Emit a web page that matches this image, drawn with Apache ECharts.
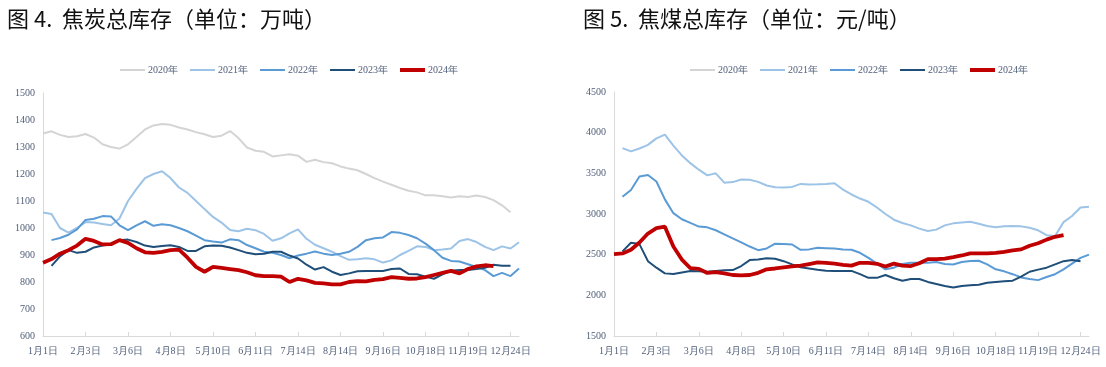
<!DOCTYPE html>
<html>
<head>
<meta charset="utf-8">
<script src="https://cdn.jsdelivr.net/npm/echarts@6/dist/echarts.min.js"></script>
<style>
html,body{margin:0;padding:0;background:#fff;}
#c{width:1106px;height:367px;}
</style>
</head>
<body>
<div id="c"></div>
<script>
// Tick labels (every 5th category), 57 weekly categories in total
const tickLabels = ['1月1日','2月3日','3月6日','4月8日','5月10日','6月11日','7月14日','8月14日','9月16日','10月18日','11月19日','12月24日'];
const seriesNames = ['2020年','2021年','2022年','2023年','2024年'];

// 图4 焦炭总库存（万吨）
const coke2020 = [1350,1358,1345,1337,1340,1348,1335,1310,1300,1294,1310,1337,1365,1380,1385,1382,1372,1365,1355,1347,1337,1342,1359,1333,1298,1286,1282,1265,1269,1273,1268,1245,1253,1244,1240,1228,1220,1214,1200,1185,1172,1160,1148,1138,1132,1121,1121,1118,1113,1118,1115,1120,1115,1103,1084,1058];
const coke2021 = [1057,1052,1000,983,1000,1022,1020,1015,1010,1035,1100,1145,1185,1200,1210,1185,1150,1130,1100,1070,1041,1020,993,988,997,992,978,953,962,980,995,960,938,925,912,896,882,884,888,884,872,880,900,915,932,930,918,920,924,952,959,948,930,918,932,924,947];
const coke2022 = [null,955,963,975,995,1030,1034,1044,1043,1010,992,1010,1025,1008,1014,1010,1000,988,972,955,950,946,958,955,937,925,912,908,900,888,898,905,913,905,900,905,912,930,955,962,965,985,982,974,962,942,918,890,878,876,866,856,844,822,834,822,850];
const coke2023 = [null,860,895,918,908,912,928,935,940,955,957,948,935,930,933,936,930,915,915,932,935,934,928,918,908,903,905,912,912,898,887,864,846,855,838,826,832,840,841,841,841,848,850,830,829,820,812,828,842,844,844,848,853,864,860,860];
const coke2024 = [871,885,905,918,935,960,952,939,940,955,945,925,910,908,912,918,920,890,856,838,856,852,848,844,836,825,822,822,820,800,812,806,797,795,791,791,800,803,802,808,811,818,815,812,813,818,826,834,841,832,848,858,862,859];

// 图5 焦煤总库存
const coal2020 = [];
const coal2021 = [null,3810,3770,3805,3850,3930,3975,3840,3720,3625,3545,3475,3500,3385,3392,3425,3420,3395,3350,3330,3326,3333,3370,3362,3365,3370,3378,3300,3240,3190,3150,3080,3000,2930,2890,2860,2820,2790,2808,2860,2885,2895,2905,2880,2852,2836,2850,2852,2848,2830,2800,2740,2729,2900,2975,3080,3090];
const coal2022 = [null,3213,3296,3460,3480,3400,3180,3010,2935,2890,2845,2836,2800,2750,2700,2650,2600,2555,2577,2635,2632,2625,2560,2565,2585,2580,2575,2565,2560,2523,2460,2390,2320,2340,2385,2400,2400,2400,2410,2385,2380,2410,2423,2425,2380,2320,2295,2260,2220,2200,2187,2225,2260,2320,2390,2460,2500];
const coal2023 = [null,2540,2646,2630,2420,2340,2270,2261,2280,2298,2295,2289,2300,2308,2310,2360,2433,2440,2455,2450,2420,2380,2345,2330,2315,2302,2298,2298,2300,2260,2215,2215,2250,2210,2180,2200,2200,2165,2140,2115,2095,2115,2125,2130,2154,2163,2172,2180,2230,2290,2316,2340,2380,2420,2435,2420];
const coal2024 = [2507,2515,2560,2650,2760,2825,2844,2600,2440,2335,2325,2275,2285,2270,2250,2245,2250,2277,2320,2330,2345,2355,2365,2385,2405,2400,2390,2375,2365,2400,2400,2388,2355,2390,2365,2360,2395,2445,2445,2452,2470,2490,2515,2515,2515,2522,2535,2553,2565,2610,2640,2685,2720,2741];

const CAT_COUNT = 57, LABEL_STEP = 5;
const categories = [];
for (let i = 0; i < CAT_COUNT; i++) {
  categories.push(i % LABEL_STEP === 0 && tickLabels[i / LABEL_STEP] ? tickLabels[i / LABEL_STEP] : 'w' + i);
}

const colors = ['#d4d4d4','#9dc3e6','#5b9bd5','#1f4e79','#c00000'];
const widths = [2,2,2,2,3.8];
const labelColor = '#4f5d78';
const serif = '"Liberation Serif","Times New Roman",serif';

function xAxis(gi) {
  return {
    type:'category', gridIndex:gi, data:categories, boundaryGap:false,
    axisLine:{show:true, lineStyle:{color:'#d9d9d9', width:1}},
    axisTick:{show:true, inside:true, length:4, interval:LABEL_STEP-1, lineStyle:{color:'#d9d9d9'}},
    axisLabel:{interval:LABEL_STEP-1, color:labelColor, fontFamily:serif, fontSize:10, margin:10},
    splitLine:{show:false}
  };
}
function yAxis(gi, min, max, step) {
  return {
    type:'value', gridIndex:gi, min:min, max:max, interval:step,
    axisLine:{show:true, lineStyle:{color:'#d9d9d9', width:1}},
    axisTick:{show:false},
    axisLabel:{color:labelColor, fontFamily:serif, fontSize:10, margin:8, formatter:(v)=>String(v)},
    splitLine:{show:false}
  };
}
function mkSeries(gi, arrs) {
  return arrs.map((d, k) => ({
    name: seriesNames[k], type:'line', xAxisIndex:gi, yAxisIndex:gi,
    data:d, symbol:'none', smooth:false, connectNulls:false,
    lineStyle:{color:colors[k], width:widths[k]}, itemStyle:{color:colors[k]},
    z: 2 + k
  }));
}
function legend(left) {
  return {
    left:left, top:60, itemWidth:25, itemHeight:10, itemGap:12, symbolKeepAspect:true,
    data: seriesNames.map((n, k) => ({
      name:n,
      icon: k === 4 ? 'path://M0,0H25V4H0Z' : 'path://M0,0H25V2H0Z',
      itemStyle:{color:colors[k]}
    })),
    textStyle:{color:labelColor, fontFamily:serif, fontSize:10, padding:[0,0,0,-2]}
  };
}

const titleStyle = {fontFamily:'"Noto Sans CJK SC","Noto Sans",sans-serif', fontSize:22, fontWeight:'normal', color:'#111'};
const chart = echarts.init(document.getElementById('c'), null, {renderer:'canvas'});
chart.setOption({
  animation:false,
  backgroundColor:'#fff',
  color:colors,
  title:[
    {text:'图 4.  焦炭总库存（单位：万吨）', left:2, top:3, textStyle:titleStyle},
    {text:'图 5.  焦煤总库存（单位：元/吨）', left:578, top:3, textStyle:titleStyle}
  ],
  legend:[legend(115), legend(685)],
  grid:[
    {left:43, right:587, top:93, bottom:31},
    {left:614, right:17, top:92, bottom:31}
  ],
  xAxis:[xAxis(0), xAxis(1)],
  yAxis:[yAxis(0,600,1500,100), yAxis(1,1500,4500,500)],
  series:[].concat(
    mkSeries(0,[coke2020,coke2021,coke2022,coke2023,coke2024]),
    mkSeries(1,[coal2020,coal2021,coal2022,coal2023,coal2024])
  )
});
</script>
</body>
</html>
